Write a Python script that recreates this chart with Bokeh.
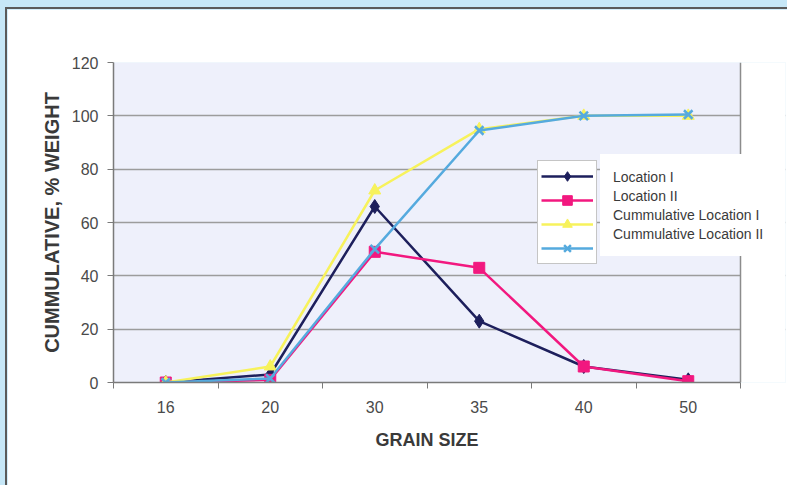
from bokeh.plotting import figure
from bokeh.models import (Range1d, FixedTicker, Legend, LegendItem, ColumnDataSource,
                          BoxAnnotation, Span, Title)
from bokeh.layouts import column
from bokeh.embed import file_html
from bokeh.resources import INLINE

# ---- data -------------------------------------------------------------
grain = ["16", "20", "30", "35", "40", "50"]
loc1 = [0, 3, 66, 23, 6, 1]
loc2 = [0, 1, 49, 43, 6, 0.5]
cum1 = [0, 6, 72, 95, 100, 100]
cum2 = [0, 1.5, 50, 94.5, 100, 100.5]
y_ticks = [0, 20, 40, 60, 80, 100, 120]
series_names = ["Location I", "Location II", "Cummulative Location I", "Cummulative Location II"]

xs = list(range(len(grain)))
source = ColumnDataSource(dict(x=xs, loc1=loc1, loc2=loc2, cum1=cum1, cum2=cum2))

FONT = "Liberation Sans"

# frame is wider than the shaded plot area so that the legend text can sit to its right
FRAME_W = 672
PLOT_W = 627
x_start = -0.5
x_end = x_start + len(grain) * FRAME_W / PLOT_W
area_right = len(grain) - 0.5

p = figure(width=782, height=478, margin=(7, 0, 0, 5),
           x_range=Range1d(x_start, x_end), y_range=Range1d(0, 120),
           output_backend="svg", toolbar_location=None,
           min_border_left=106, min_border_right=4, min_border_top=53, min_border_bottom=105)
p.styles = {"border-left": "2px solid #5a5a5a", "border-top": "2px solid #5a5a5a"}
p.border_fill_color = "white"
p.background_fill_color = "white"
p.outline_line_color = None

p.xgrid.visible = False
p.ygrid.grid_line_color = "#9c9c9c"
p.ygrid.grid_line_width = 1.5

# shaded plot area, white beyond it, right border
p.add_layout(BoxAnnotation(right=area_right, fill_color="#eef0fb", fill_alpha=1,
                           line_color=None, level="image"))
p.add_layout(BoxAnnotation(left=area_right, fill_color="white", fill_alpha=1,
                           line_color=None, level="underlay"))
p.add_layout(Span(location=area_right, dimension="height", line_color="#8c8c8c",
                  line_width=1.5, level="underlay"))

# y axis
p.yaxis.ticker = FixedTicker(ticks=y_ticks)
p.yaxis.axis_label = "CUMMULATIVE, % WEIGHT"
p.yaxis.axis_label_text_font = FONT
p.yaxis.axis_label_text_font_style = "bold"
p.yaxis.axis_label_text_font_size = "20px"
p.yaxis.axis_label_text_color = "#3a3a3a"
p.yaxis.axis_label_standoff = 6
p.yaxis.major_label_text_font = FONT
p.yaxis.major_label_text_font_size = "16px"
p.yaxis.major_label_text_color = "#4a4a4a"
p.yaxis.major_label_standoff = 9
p.yaxis.major_tick_out = 6
p.yaxis.major_tick_in = 0
p.yaxis.minor_tick_line_color = None
p.yaxis.axis_line_color = "#7a7a7a"
p.yaxis.axis_line_width = 1.5
p.yaxis.major_tick_line_color = "#7a7a7a"

# x axis (categories at integer positions, ticks at category boundaries)
p.xaxis.ticker = FixedTicker(ticks=xs, minor_ticks=[i - 0.5 for i in range(len(grain) + 1)])
p.xaxis.major_label_overrides = {i: g for i, g in zip(xs, grain)}
p.xaxis.bounds = (x_start, area_right)
p.xaxis.major_label_text_font = FONT
p.xaxis.major_label_text_font_size = "16px"
p.xaxis.major_label_text_color = "#4a4a4a"
p.xaxis.major_label_standoff = 12
p.xaxis.major_tick_out = 6
p.xaxis.major_tick_in = 0
p.xaxis.major_tick_line_color = None
p.xaxis.minor_tick_out = 6
p.xaxis.minor_tick_in = 0
p.xaxis.minor_tick_line_color = "#7a7a7a"
p.xaxis.axis_line_color = "#7a7a7a"
p.xaxis.axis_line_width = 1.5

# x-axis title, centred under the shaded plot area
p.add_layout(Title(text="GRAIN SIZE", align="left", offset=262, standoff=24,
                   text_font=FONT, text_font_style="bold", text_font_size="18px",
                   text_color="#3a3a3a"), "below")

styles = [
    ("loc1", "#1d1f5c", "diamond", 14, 1),
    ("loc2", "#f2187f", "square", 11, 1),
    ("cum1", "#f7f25c", "triangle", 12, 1),
    ("cum2", "#55aade", "x", 12, 2.5),
]
items_a, items_b = [], []
for name, (col, color, marker, size, mlw) in zip(series_names, styles):
    lr = p.line("x", col, source=source, line_color=color, line_width=2.5)
    sr = p.scatter("x", col, source=source, marker=marker, size=size,
                   fill_color=color, line_color=color, line_width=mlw)
    items_a.append(LegendItem(label=" ", renderers=[lr, sr]))
    items_b.append(LegendItem(label=name, renderers=[lr, sr]))

leg_a = Legend(items=items_a, location=(424, 118), glyph_width=52, glyph_height=24,
               label_height=24, label_width=0, label_standoff=0, label_text_font_size="1px",
               padding=3, spacing=0, margin=0, border_line_color="#8c8c8c", border_line_width=1,
               background_fill_color="white", background_fill_alpha=1)
leg_b = Legend(items=items_b, location=(487, 126), glyph_width=0, glyph_height=19,
               label_height=19, label_width=0, label_standoff=0,
               label_text_font=FONT, label_text_font_size="14px", label_text_color="#3a3a3a",
               padding=12, spacing=0, margin=0, border_line_color="white", border_line_width=1,
               background_fill_color="white", background_fill_alpha=1)
p.add_layout(leg_a)
p.add_layout(leg_b)

layout = column(p, styles={"background-color": "#c6e7f7"})
open("out.html", "w").write(file_html(layout, INLINE))
